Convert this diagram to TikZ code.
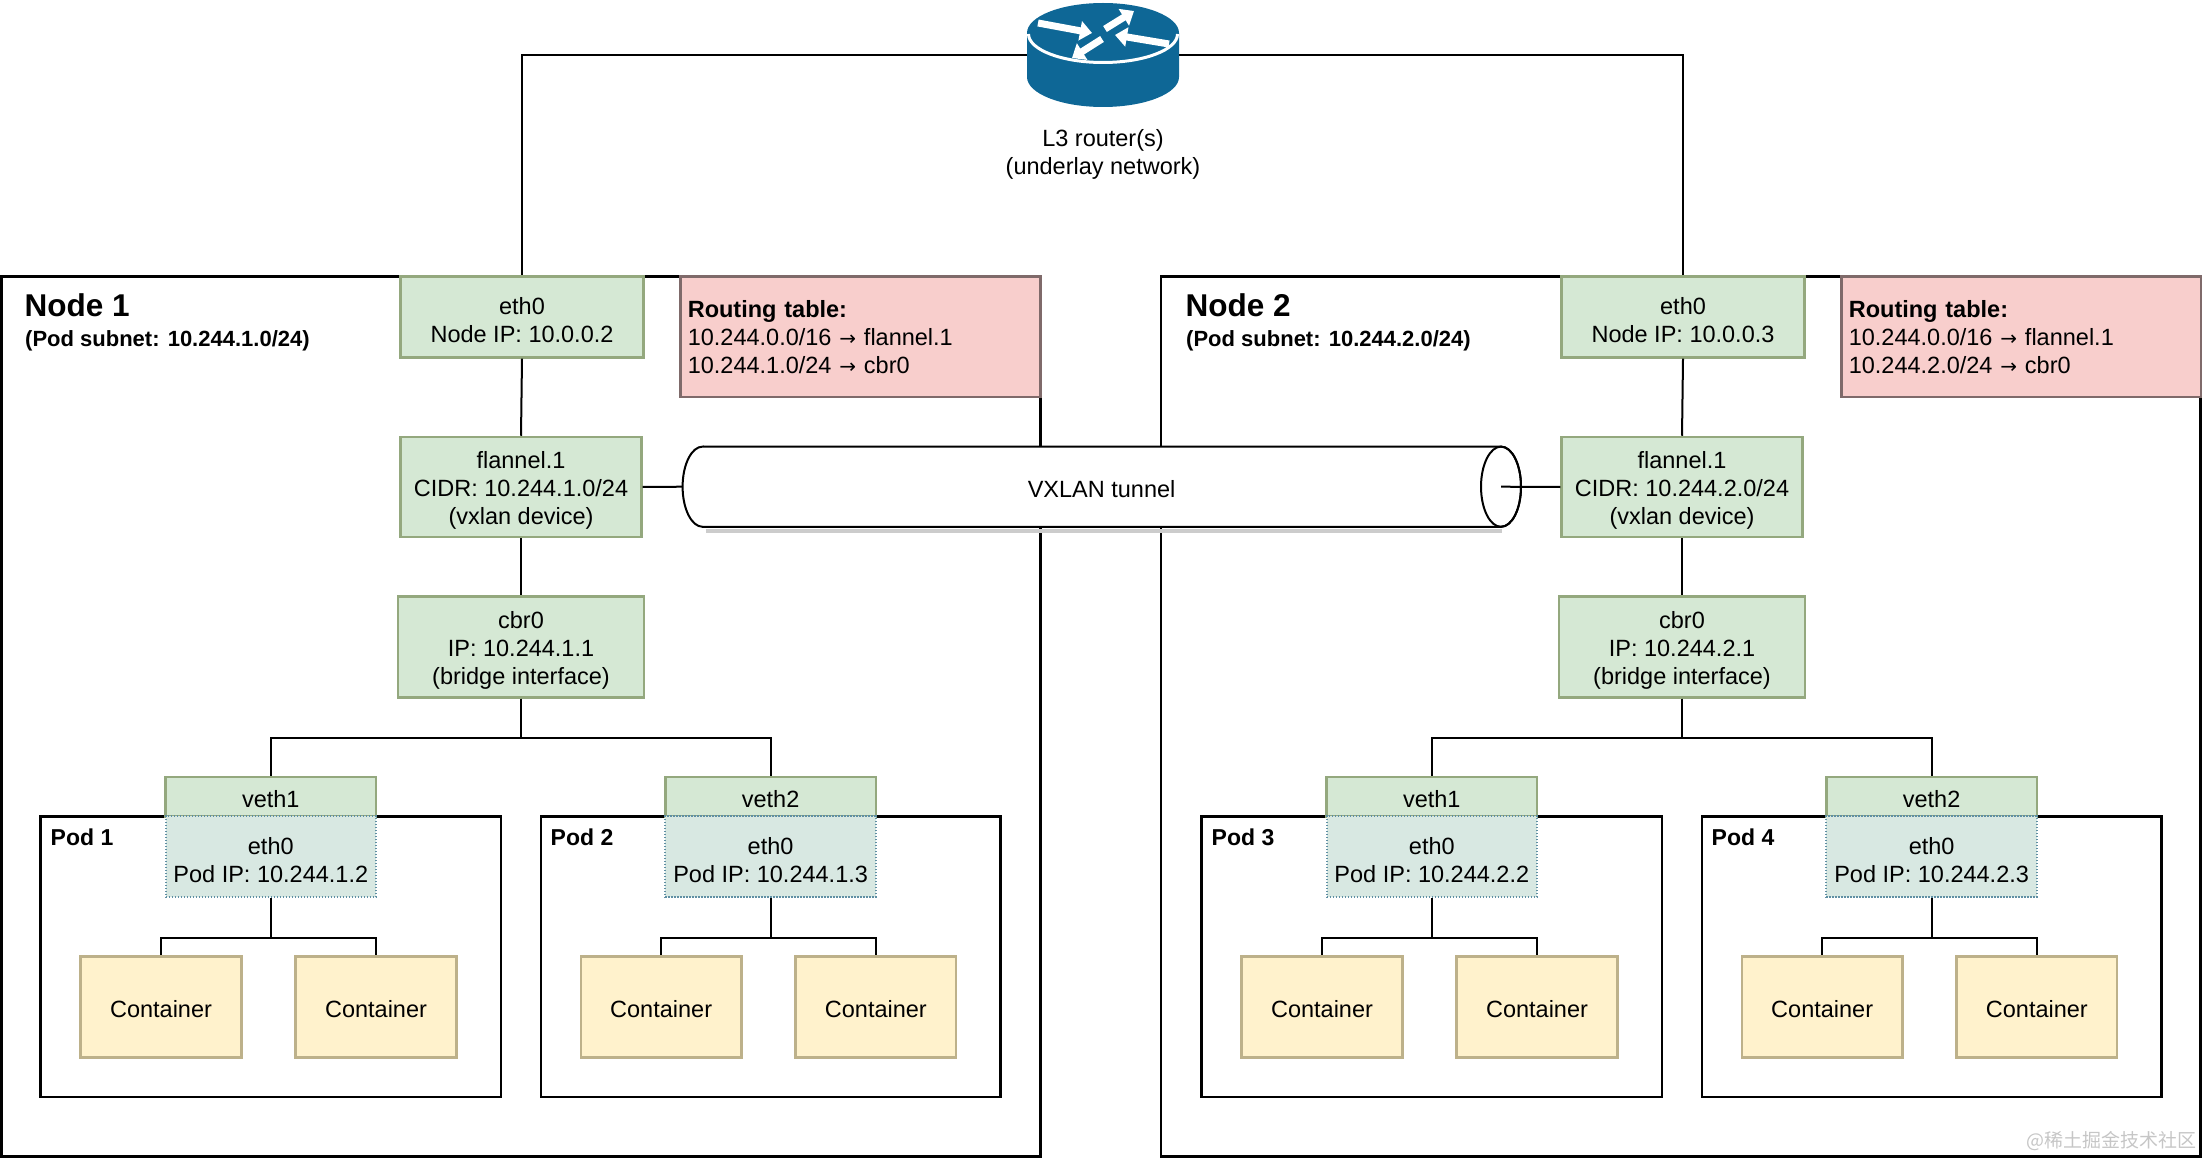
\documentclass[tikz,border=0pt]{standalone}
\usepackage{fontspec}
\setmainfont{Liberation Sans}
\newfontfamily\arrowfont{DejaVu Sans}
\newfontfamily\cjkfont{Noto Sans CJK SC}
\usetikzlibrary{arrows.meta}
\definecolor{ifacefill}{HTML}{D5E8D4}
\definecolor{ifaceline}{HTML}{94A87E}
\definecolor{podethfill}{HTML}{D8E8E2}
\definecolor{podethline}{HTML}{5F8FA3}
\definecolor{routefill}{HTML}{F8CECC}
\definecolor{routeline}{HTML}{7F6A6A}
\definecolor{ctrfill}{HTML}{FFF2CC}
\definecolor{ctrline}{HTML}{BDB18A}
\definecolor{routerblue}{HTML}{0E6796}
\newcommand{\boxfont}{\fontsize{23.5}{28.2}\selectfont}
\newcommand{\toarrow}{{\arrowfont\fontsize{20}{24}\selectfont →}}
\newcommand{\topstrut}{\rule{0pt}{24pt}}
\begin{document}
\begin{tikzpicture}[x=1pt, y=1pt, yscale=-1,
    lowered/.style={execute at begin node={\rule{0pt}{22pt}}},
    iface/.style={draw=ifaceline, fill=ifacefill, line width=2.5pt, inner sep=0pt, align=center, font=\boxfont, lowered},
    podeth/.style={draw=podethline, fill=podethfill, line width=2pt, dash pattern=on 1.5pt off 1.5pt, inner sep=0pt, align=center, font=\boxfont},
    ctr/.style={draw=ctrline, fill=ctrfill, line width=2.5pt, inner sep=0pt, minimum width=160.6pt, minimum height=101pt, font=\boxfont, lowered},
    routetable/.style={draw=routeline, fill=routefill, line width=2.5pt, inner xsep=7.3pt, inner ysep=0pt, text width=345.2pt, minimum height=120.3pt, align=left, font=\boxfont},
    hostframe/.style={draw=black, line width=2.6pt},
    wire/.style={draw=black, line width=2pt},
    hosttitle/.style={anchor=base west, inner sep=0pt, font=\bfseries\fontsize{31.5}{37}\selectfont},
    subtitle/.style={anchor=base west, inner sep=0pt, font=\bfseries\fontsize{22}{26}\selectfont},
    podtitle/.style={anchor=base west, inner sep=0pt, font=\bfseries\fontsize{23}{27}\selectfont},
    routerarrow/.style={white, line width=7pt, -{Triangle[length=12pt, width=19pt]}}]
                \useasboundingbox (0,0) rectangle (2202,1158);
                % frames
                \draw[hostframe] (1.3,276.7) rectangle (1040.3,1156.7);
                \draw[hostframe] (1161,276.7) rectangle (2200.7,1156.7);
                \draw[hostframe] (40.7,816.3) rectangle (500.9,1096.8);
                \draw[hostframe] (540.9,816.3) rectangle (1000.4,1096.8);
                \draw[hostframe] (1201.7,816.3) rectangle (1661.9,1096.8);
                \draw[hostframe] (1701.9,816.3) rectangle (2161.4,1096.8);
                \node[hosttitle] (50) at (24.5,316) {Node 1};
                \node[subtitle] (51) at (25,346.7) {(Pod subnet: 10.244.1.0/24)};
                \node[hosttitle] (52) at (1185.5,316) {Node 2};
                \node[subtitle] (53) at (1186,346.7) {(Pod subnet: 10.244.2.0/24)};
                \node[podtitle] (54) at (50.5,845) {Pod 1};
                \node[podtitle] (55) at (550.5,845) {Pod 2};
                \node[podtitle] (56) at (1211.5,845) {Pod 3};
                \node[podtitle] (57) at (1711.5,845) {Pod 4};
                % node 1
                \node[iface, minimum width=242.7pt, minimum height=80.7pt] (0) at (522,317) {\topstrut eth0\\Node IP: 10.0.0.2};
                \node[routetable] (1) at (860.4,336.85) {{\bfseries Routing table:}\\10.244.0.0/16 \toarrow{} flannel.1\\10.244.1.0/24 \toarrow{} cbr0};
                \node[iface, minimum width=240.6pt, minimum height=100pt] (2) at (521,487) {\topstrut flannel.1\\CIDR: 10.244.1.0/24\\(vxlan device)};
                \node[iface, minimum width=246pt, minimum height=100.6pt] (3) at (521,647) {\topstrut cbr0\\IP: 10.244.1.1\\(bridge interface)};
                \node[iface, minimum width=210.4pt, minimum height=39.5pt] (4) at (270.8,796.5) {veth1};
                \node[podeth, minimum width=210.4pt, minimum height=80.7pt] (5) at (270.8,856.7) {\topstrut eth0\\Pod IP: 10.244.1.2};
                \node[ctr] (6) at (161,1006.8) {Container};
                \node[ctr] (7) at (376,1006.8) {Container};
                \node[iface, minimum width=210.4pt, minimum height=39.5pt] (8) at (770.6,796.5) {veth2};
                \node[podeth, minimum width=210.4pt, minimum height=80.7pt] (9) at (770.6,856.7) {\topstrut eth0\\Pod IP: 10.244.1.3};
                \node[ctr] (10) at (661.15,1006.8) {Container};
                \node[ctr] (11) at (875.85,1006.8) {Container};
                % node 2
                \node[iface, minimum width=242.7pt, minimum height=80.7pt] (20) at (1683,317) {\topstrut eth0\\Node IP: 10.0.0.3};
                \node[routetable] (21) at (2021.4,336.85) {{\bfseries Routing table:}\\10.244.0.0/16 \toarrow{} flannel.1\\10.244.2.0/24 \toarrow{} cbr0};
                \node[iface, minimum width=240.6pt, minimum height=100pt] (22) at (1682,487) {\topstrut flannel.1\\CIDR: 10.244.2.0/24\\(vxlan device)};
                \node[iface, minimum width=246pt, minimum height=100.6pt] (23) at (1682,647) {\topstrut cbr0\\IP: 10.244.2.1\\(bridge interface)};
                \node[iface, minimum width=210.4pt, minimum height=39.5pt] (24) at (1431.8,796.5) {veth1};
                \node[podeth, minimum width=210.4pt, minimum height=80.7pt] (25) at (1431.8,856.7) {\topstrut eth0\\Pod IP: 10.244.2.2};
                \node[ctr] (26) at (1322,1006.8) {Container};
                \node[ctr] (27) at (1537,1006.8) {Container};
                \node[iface, minimum width=210.4pt, minimum height=39.5pt] (28) at (1931.6,796.5) {veth2};
                \node[podeth, minimum width=210.4pt, minimum height=80.7pt] (29) at (1931.6,856.7) {\topstrut eth0\\Pod IP: 10.244.2.3};
                \node[ctr] (30) at (1822.15,1006.8) {Container};
                \node[ctr] (31) at (2036.85,1006.8) {Container};
                % wires inside the nodes
                \draw[wire] (0.south) -- (2.north);
                \draw[wire] (2.south) -- (3.north);
                \draw[wire] (3.south) -- ++(0,39.5) -| (4.north);
                \draw[wire] (3.south) -- ++(0,39.5) -| (8.north);
                \draw[wire] (5.south) -- ++(0,39.8) -| (6.north);
                \draw[wire] (5.south) -- ++(0,39.8) -| (7.north);
                \draw[wire] (9.south) -- ++(0,39.8) -| (10.north);
                \draw[wire] (9.south) -- ++(0,39.8) -| (11.north);
                \draw[wire] (20.south) -- (22.north);
                \draw[wire] (22.south) -- (23.north);
                \draw[wire] (23.south) -- ++(0,39.5) -| (24.north);
                \draw[wire] (23.south) -- ++(0,39.5) -| (28.north);
                \draw[wire] (25.south) -- ++(0,39.8) -| (26.north);
                \draw[wire] (25.south) -- ++(0,39.8) -| (27.north);
                \draw[wire] (29.south) -- ++(0,39.8) -| (30.north);
                \draw[wire] (29.south) -- ++(0,39.8) -| (31.north);
                % tunnel
                \fill[gray!40] (706,528.5) rectangle (1502,533);
                \draw[wire, fill=white] (702.6,446.6) -- (1501,446.6) arc[start angle=270, end angle=450, x radius=20, y radius=40.1] -- (702.6,526.8) arc[start angle=90, end angle=270, x radius=20, y radius=40.1] -- cycle;
                \draw[wire] (1501,486.7) ellipse[x radius=20, y radius=40.1];
                \node[font=\boxfont, lowered] (42) at (1101.6,487) {VXLAN tunnel};
                \coordinate (43) at (682.6,486.7);
                \coordinate (44) at (1501,486.7);
                \draw[wire] (2.east) -- (43);
                \draw[wire] (44) -- (22.west);
                % router
                \node[minimum width=152pt, minimum height=103pt, inner sep=0pt] (40) at (1103,55.5) {};
                \node[font=\boxfont, align=center] (41) at (1103,154.7) {L3 router(s)\\(underlay network)};
                \draw[wire] (40.west) -| (0.north);
                \draw[wire] (40.east) -| (20.north);
                \fill[routerblue] (1027,33) -- (1027,77) arc[start angle=180, end angle=0, x radius=76, y radius=30] -- (1179,33) -- cycle;
                \fill[routerblue] (1103,33) ellipse[x radius=76, y radius=30];
                \draw[white, line width=3pt] (1028.5,34) arc[start angle=180, end angle=0, x radius=74.5, y radius=28.5];
                \draw[routerarrow] (1038,23) -- (1092,33);
                \draw[routerarrow] (1105,29) -- (1134,11);
                \draw[routerarrow] (1169,44) -- (1115,35);
                \draw[routerarrow] (1102,39) -- (1072,58);
                \node[anchor=east, inner sep=0pt, text=gray!45, font=\cjkfont\fontsize{19}{22}\selectfont] (60) at (2197,1141) {@稀土掘金技术社区};
\end{tikzpicture}
\end{document}
